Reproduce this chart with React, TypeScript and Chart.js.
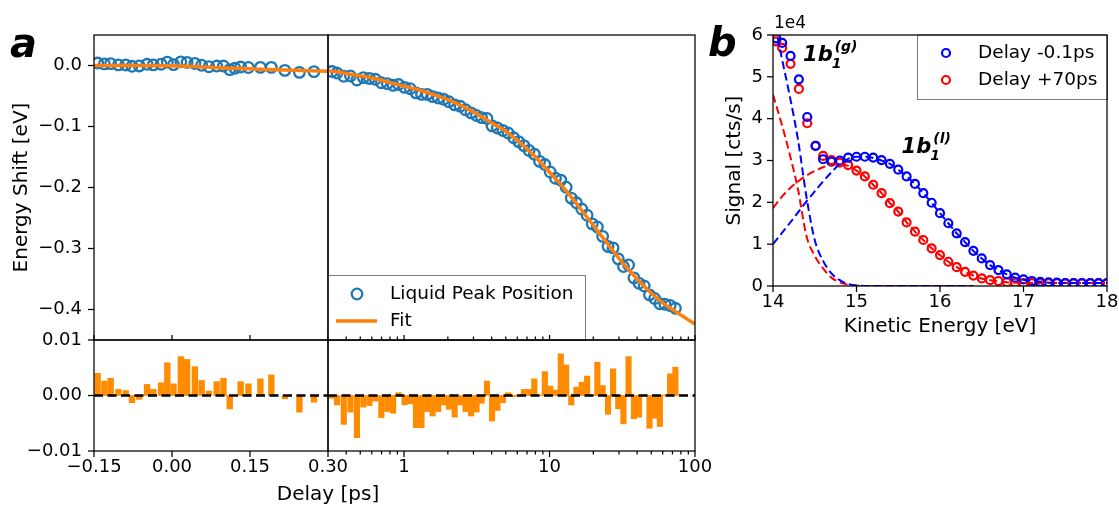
import React, { useEffect, useRef } from 'react';
import { Chart, registerables } from 'chart.js';

Chart.register(...registerables);

const W = 1119;
const H = 505;
const FAMILY = "'DejaVu Sans', 'Liberation Sans', sans-serif";
Chart.defaults.font.family = FAMILY;
Chart.defaults.color = '#000';

// ===================== Panel a =====================
// early delays (linear segment of the axis), ps
const delayEarly = [-0.143, -0.130, -0.118, -0.103, -0.089, -0.077, -0.063, -0.048, -0.036, -0.021, -0.009, 0.003, 0.017, 0.029, 0.044, 0.057, 0.071, 0.086, 0.099, 0.111, 0.121, 0.132, 0.147, 0.170, 0.191, 0.217, 0.245, 0.273];
const shiftEarly = [0.0040, 0.0026, 0.0031, 0.0011, 0.0009, -0.0013, -0.0007, 0.0020, 0.0010, 0.0021, 0.0055, 0.0015, 0.0060, 0.0051, 0.0034, 0.0004, -0.0020, -0.0009, -0.0009, -0.0067, -0.0046, -0.0025, -0.0033, -0.0031, -0.0030, -0.0080, -0.0112, -0.0101];
const residualEarly = [0.0040, 0.0026, 0.0031, 0.0011, 0.0009, -0.0013, -0.0007, 0.0020, 0.0011, 0.0023, 0.0059, 0.0021, 0.0070, 0.0065, 0.0052, 0.0027, 0.0008, 0.0025, 0.0031, -0.0024, 0.0000, 0.0025, 0.0021, 0.0030, 0.0037, -0.0006, -0.0030, -0.0012];
const fitEarlyDelay = [-0.15, -0.10, -0.05, 0.0, 0.05, 0.10, 0.15, 0.20, 0.25, 0.30];
const fitEarlyShift = [0.0, 0.0, 0.0, -0.0005, -0.002, -0.004, -0.0055, -0.007, -0.0083, -0.0095];

// late delays (logarithmic segment of the axis), ps
const delayLate = [0.320, 0.346, 0.385, 0.428, 0.474, 0.525, 0.578, 0.635, 0.698, 0.767, 0.841, 0.917, 1.008, 1.103, 1.208, 1.318, 1.442, 1.573, 1.718, 1.870, 2.033, 2.228, 2.430, 2.646, 2.886, 3.148, 3.412, 3.715, 4.025, 4.384, 4.780, 5.197, 5.667, 6.134, 6.668, 7.237, 7.859, 8.543, 9.286, 10.11, 10.99, 11.95, 13.01, 14.11, 15.31, 16.65, 18.13, 19.65, 21.32, 23.18, 25.24, 27.35, 29.69, 32.23, 34.93, 38.03, 41.22, 44.75, 48.64, 52.80, 57.32, 62.12, 67.45, 73.31];
const shiftLate = [-0.0099, -0.0124, -0.0176, -0.0172, -0.0237, -0.0199, -0.0212, -0.0226, -0.0282, -0.0297, -0.0325, -0.0312, -0.0359, -0.0381, -0.0448, -0.0473, -0.0474, -0.0511, -0.0533, -0.0554, -0.0595, -0.0646, -0.0669, -0.0725, -0.0777, -0.0820, -0.0854, -0.0868, -0.0990, -0.1024, -0.1065, -0.1107, -0.1185, -0.1248, -0.1314, -0.1393, -0.1453, -0.1572, -0.1624, -0.1746, -0.1848, -0.1879, -0.1995, -0.2175, -0.2251, -0.2353, -0.2455, -0.2597, -0.2647, -0.2801, -0.2966, -0.2990, -0.3171, -0.3296, -0.3270, -0.3482, -0.3570, -0.3614, -0.3761, -0.3819, -0.3906, -0.3914, -0.3934, -0.3980];
const residualLate = [-0.0005, -0.0017, -0.0052, -0.0030, -0.0076, -0.0021, -0.0018, -0.0010, -0.0040, -0.0029, -0.0032, 0.0005, -0.0017, -0.0015, -0.0058, -0.0058, -0.0029, -0.0037, -0.0029, -0.0017, -0.0025, -0.0039, -0.0017, -0.0029, -0.0037, -0.0030, -0.0014, 0.0026, -0.0046, -0.0027, -0.0013, 0.0005, -0.0002, 0.0001, 0.0011, 0.0011, 0.0030, 0.0001, 0.0043, 0.0017, 0.0010, 0.0075, 0.0055, -0.0017, 0.0015, 0.0024, 0.0035, 0.0001, 0.0060, 0.0018, -0.0034, 0.0048, -0.0024, -0.0051, 0.0070, -0.0042, -0.0039, 0.0001, -0.0059, -0.0041, -0.0056, 0.0001, 0.0039, 0.0051];
const fitLateDelay = [0.3, 0.4, 0.5, 0.6, 0.8, 1, 1.3, 1.7, 2.2, 3, 4, 5, 6.3, 8, 10, 13, 18, 25, 30, 40, 50, 60, 70, 80, 100];
const fitLateShift = [-0.0085, -0.013, -0.017, -0.020, -0.028, -0.034, -0.041, -0.050, -0.060, -0.076, -0.094, -0.108, -0.127, -0.150, -0.175, -0.205, -0.248, -0.292, -0.316, -0.350, -0.373, -0.389, -0.400, -0.409, -0.424];

const shiftTicks = [0, -0.1, -0.2, -0.3, -0.4];
const residualTicks = [0.01, 0, -0.01];
const linearDelayTicks = [-0.15, 0, 0.15, 0.3];
const logDelayMajor = [1, 10, 100];
const logDelayMinor = [0.4, 0.5, 0.6, 0.7, 0.8, 0.9, 2, 3, 4, 5, 6, 7, 8, 9, 20, 30, 40, 50, 60, 70, 80, 90];

// ===================== Panel b =====================
// kinetic energy (eV), signal in units of 1e4 cts/s
const kineticEnergy = [14.04, 14.11, 14.21, 14.31, 14.41, 14.51, 14.6, 14.7, 14.8, 14.9, 15.0, 15.1, 15.2, 15.3, 15.4, 15.5, 15.6, 15.7, 15.8, 15.9, 16.0, 16.1, 16.2, 16.3, 16.4, 16.5, 16.6, 16.7, 16.8, 16.9, 17.0, 17.1, 17.2, 17.3, 17.4, 17.5, 17.6, 17.7, 17.8, 17.9, 18.0];
const signalEarly = [5.92, 5.81, 5.50, 4.94, 4.04, 3.35, 3.03, 2.97, 3.00, 3.07, 3.09, 3.09, 3.07, 3.01, 2.92, 2.78, 2.62, 2.44, 2.22, 1.99, 1.74, 1.50, 1.26, 1.05, 0.84, 0.66, 0.50, 0.38, 0.28, 0.20, 0.16, 0.12, 0.10, 0.09, 0.08, 0.07, 0.07, 0.07, 0.07, 0.07, 0.07];
const signalLate = [5.85, 5.69, 5.31, 4.71, 3.89, 3.35, 3.11, 3.01, 2.95, 2.89, 2.76, 2.62, 2.42, 2.22, 1.98, 1.78, 1.52, 1.30, 1.10, 0.90, 0.74, 0.58, 0.45, 0.34, 0.25, 0.18, 0.14, 0.12, 0.09, 0.08, 0.07, 0.07, 0.07, 0.07, 0.07, 0.07, 0.07, 0.07, 0.07, 0.07, 0.07];
const gasFitEnergy = [14.0, 14.1, 14.2, 14.3, 14.4, 14.5, 14.6, 14.7, 14.8, 14.9, 15.0, 15.2, 16.4];
const gasFitEarly = [6.5, 5.5, 4.55, 3.49, 2.14, 1.10, 0.6, 0.3, 0.14, 0.05, 0.015, 0.0, 0.0];
const gasFitLate = [4.57, 3.9, 3.15, 2.3, 1.2, 0.72, 0.42, 0.2, 0.09, 0.03, 0.01, 0.0, 0.0];
const liquidFitEnergy = [14.0, 14.1, 14.2, 14.3, 14.4, 14.5, 14.6, 14.7, 14.8, 14.9, 15.0, 15.1, 15.2, 15.3, 15.4, 15.5, 15.6, 15.7, 15.8, 15.9, 16.0, 16.1, 16.2, 16.3, 16.4, 16.5, 16.6, 16.7, 16.8, 16.9, 17.0, 17.5, 18.0];
const liquidFitEarly = [1.00, 1.25, 1.50, 1.76, 2.02, 2.26, 2.50, 2.72, 2.92, 3.04, 3.09, 3.09, 3.06, 3.00, 2.92, 2.78, 2.62, 2.44, 2.22, 1.99, 1.74, 1.50, 1.26, 1.05, 0.84, 0.66, 0.50, 0.38, 0.28, 0.20, 0.15, 0.07, 0.07];
const liquidFitLate = [1.86, 2.12, 2.33, 2.50, 2.64, 2.75, 2.84, 2.90, 2.92, 2.87, 2.76, 2.62, 2.42, 2.22, 1.98, 1.78, 1.52, 1.30, 1.10, 0.90, 0.74, 0.58, 0.45, 0.34, 0.25, 0.18, 0.14, 0.11, 0.09, 0.08, 0.07, 0.07, 0.07];
const energyTicks = [14, 15, 16, 17, 18];
const signalTicks = [0, 1, 2, 3, 4, 5, 6];
const legendB = ['Delay -0.1ps', 'Delay +70ps'];
const legendA = ['Liquid Peak Position', 'Fit'];

// ===================== helpers =====================
const C_BLUE = '#1f77b4';
const C_ORANGE = '#ff7f0e';
const C_BAR = '#ff8c00';
const TICK_FONT = { family: FAMILY, size: 18 };
const TITLE_SIZE = 20;
const LEGEND_FONT = `18.5px ${FAMILY}`;

const pts = (xs: number[], ys: number[]) => xs.map((x, i) => ({ x, y: ys[i] }));
const minus = (s: string) => s.replace('-', '\u2212');

type TickSpec = { axis: 'x' | 'y'; values: number[]; len: number; inward?: boolean };

function frameTicksPlugin(specs: TickSpec[]) {
  return {
    id: 'frameTicks',
    afterDraw(chart: any) {
      const { ctx, chartArea: a } = chart;
      ctx.save();
      ctx.strokeStyle = '#000';
      ctx.lineWidth = 1.25;
      ctx.strokeRect(a.left, a.top, a.right - a.left, a.bottom - a.top);
      for (const s of specs) {
        const sc = chart.scales[s.axis];
        for (const v of s.values) {
          const p = sc.getPixelForValue(v);
          ctx.beginPath();
          if (s.axis === 'x') {
            ctx.moveTo(p, a.bottom);
            ctx.lineTo(p, a.bottom + (s.inward ? -s.len : s.len));
          } else {
            ctx.moveTo(a.left, p);
            ctx.lineTo(a.left + (s.inward ? s.len : -s.len), p);
          }
          ctx.stroke();
        }
      }
      ctx.restore();
    },
  };
}

function drawPlugin(id: string, fn: (ctx: CanvasRenderingContext2D, chart: any) => void) {
  return {
    id,
    afterDatasetsDraw(chart: any) {
      const ctx = chart.ctx;
      ctx.save();
      fn(ctx, chart);
      ctx.restore();
    },
  };
}

function hiddenAxis(type: string, min: number, max: number) {
  return { type, min, max, display: false, offset: false };
}

function shownAxis(o: {
  type: string; min: number; max: number; values: number[];
  format: (v: number) => string; size: number; pad: number;
  title?: string; titlePad?: any;
}) {
  return {
    type: o.type, min: o.min, max: o.max, offset: false,
    grid: { display: false, drawTicks: false },
    border: { display: false },
    ticks: {
      font: TICK_FONT, color: '#000', padding: o.pad, autoSkip: false,
      maxRotation: 0, minRotation: 0,
      callback: (v: any) => o.format(Number(v)),
    },
    afterBuildTicks: (s: any) => { s.ticks = o.values.map((v) => ({ value: v })); },
    afterFit: (s: any) => {
      if (s.isHorizontal()) s.height = o.size; else s.width = o.size;
      s.paddingLeft = 0; s.paddingRight = 0; s.paddingTop = 0; s.paddingBottom = 0;
    },
    title: o.title
      ? { display: true, text: o.title, font: { family: FAMILY, size: TITLE_SIZE }, color: '#000', padding: o.titlePad }
      : { display: false },
  };
}

const baseOptions = (padding: any, scales: any) => ({
  responsive: false,
  maintainAspectRatio: false,
  animation: false,
  devicePixelRatio: 1,
  events: [],
  layout: { padding },
  plugins: { legend: { display: false }, tooltip: { enabled: false } },
  scales,
});

// panel frames (pixels of the figure)
const A_LEFT = 94, A_MID = 328, A_RIGHT = 695, A_TOP = 35, A_SPLIT = 340, A_BOTTOM = 451;
const B_LEFT = 773, B_RIGHT = 1107, B_TOP = 35, B_BOTTOM = 286;

function drawCircle(ctx: CanvasRenderingContext2D, x: number, y: number, r: number, color: string, lw: number) {
  ctx.beginPath();
  ctx.arc(x, y, r, 0, Math.PI * 2);
  ctx.strokeStyle = color;
  ctx.lineWidth = lw;
  ctx.stroke();
}

function drawOrbital(ctx: CanvasRenderingContext2D, x: number, y: number, sup: string) {
  ctx.fillStyle = '#000';
  ctx.textAlign = 'left';
  ctx.textBaseline = 'alphabetic';
  ctx.font = `italic bold 21px ${FAMILY}`;
  ctx.fillText('1b', x, y);
  const w = ctx.measureText('1b').width;
  ctx.font = `italic bold 14px ${FAMILY}`;
  ctx.fillText('1', x + w - 1, y + 7);
  ctx.fillText(sup, x + w + 2, y - 10);
}

// ===================== chart configs =====================
function configTopLeft() {
  return {
    type: 'line',
    data: {
      datasets: [
        { data: pts(fitEarlyDelay, fitEarlyShift), borderColor: C_ORANGE, borderWidth: 3.5, pointRadius: 0, cubicInterpolationMode: 'monotone', clip: 0 },
        { data: pts(delayEarly, shiftEarly), showLine: false, pointStyle: 'circle', pointRadius: 5.3, pointBorderWidth: 2.3, pointBorderColor: C_BLUE, pointBackgroundColor: 'rgba(0,0,0,0)', clip: 0 },
      ],
    },
    options: baseOptions(
      { left: 0, top: A_TOP, right: W - A_MID, bottom: H - A_SPLIT },
      {
        x: hiddenAxis('linear', -0.15, 0.30),
        y: shownAxis({ type: 'linear', min: -0.45, max: 0.05, values: shiftTicks, format: (v) => minus(v.toFixed(1)), size: A_LEFT, pad: 12, title: 'Energy Shift [eV]', titlePad: { top: 10, bottom: 0 } }),
      }
    ),
    plugins: [
      frameTicksPlugin([
        { axis: 'y', values: shiftTicks, len: 6 },
        { axis: 'x', values: linearDelayTicks, len: 5, inward: true },
      ]),
      drawPlugin('panelA', (ctx) => {
        ctx.fillStyle = '#000';
        ctx.font = `italic bold 40px ${FAMILY}`;
        ctx.textBaseline = 'alphabetic';
        ctx.fillText('a', 10, 57);
      }),
    ],
  };
}

function configTopRight() {
  return {
    type: 'line',
    data: {
      datasets: [
        { data: pts(fitLateDelay, fitLateShift), borderColor: C_ORANGE, borderWidth: 3.5, pointRadius: 0, cubicInterpolationMode: 'monotone', clip: 0 },
        { data: pts(delayLate, shiftLate), showLine: false, pointStyle: 'circle', pointRadius: 5.3, pointBorderWidth: 2.3, pointBorderColor: C_BLUE, pointBackgroundColor: 'rgba(0,0,0,0)', clip: 0 },
      ],
    },
    options: baseOptions(
      { left: A_MID, top: A_TOP, right: W - A_RIGHT, bottom: H - A_SPLIT },
      {
        x: hiddenAxis('logarithmic', 0.3, 100),
        y: hiddenAxis('linear', -0.45, 0.05),
      }
    ),
    plugins: [
      drawPlugin('legendA', (ctx, chart) => {
        const a = chart.chartArea;
        const bw = 258, bh = 65;
        const x0 = a.left, y0 = a.bottom - bh;
        ctx.fillStyle = '#fff';
        ctx.fillRect(x0, y0, bw, bh);
        ctx.strokeStyle = '#7a7a7a';
        ctx.lineWidth = 1;
        ctx.strokeRect(x0 + 0.5, y0 + 0.5, bw - 1, bh);
        drawCircle(ctx, x0 + 29, y0 + 19, 5.3, C_BLUE, 2.3);
        ctx.beginPath();
        ctx.moveTo(x0 + 8, y0 + 46);
        ctx.lineTo(x0 + 49, y0 + 46);
        ctx.strokeStyle = C_ORANGE;
        ctx.lineWidth = 3.5;
        ctx.stroke();
        ctx.fillStyle = '#000';
        ctx.font = LEGEND_FONT;
        ctx.textBaseline = 'middle';
        ctx.textAlign = 'left';
        ctx.fillText(legendA[0], x0 + 62, y0 + 19);
        ctx.fillText(legendA[1], x0 + 62, y0 + 46);
      }),
      frameTicksPlugin([
        { axis: 'x', values: logDelayMinor, len: 3.5, inward: true },
        { axis: 'x', values: logDelayMajor, len: 5, inward: true },
      ]),
    ],
  };
}

const zeroLineStyle = { type: 'line', borderColor: '#000', borderWidth: 2.6, borderDash: [9, 4.5], pointRadius: 0, clip: 0 };

function configBottomLeft() {
  return {
    type: 'bar',
    data: {
      datasets: [
        { ...zeroLineStyle, data: [{ x: -0.15, y: 0 }, { x: 0.30, y: 0 }] },
        { type: 'bar', data: pts(delayEarly, residualEarly), backgroundColor: C_BAR, borderWidth: 0, barThickness: 5.7 },
      ],
    },
    options: baseOptions(
      { left: 0, top: A_SPLIT, right: W - A_MID, bottom: 0 },
      {
        x: shownAxis({ type: 'linear', min: -0.15, max: 0.30, values: linearDelayTicks, format: (v) => minus(v.toFixed(2)), size: H - A_BOTTOM, pad: 6 }),
        y: shownAxis({ type: 'linear', min: -0.01, max: 0.01, values: residualTicks, format: (v) => minus(v.toFixed(2)), size: A_LEFT, pad: 12 }),
      }
    ),
    plugins: [
      frameTicksPlugin([
        { axis: 'y', values: residualTicks, len: 6 },
        { axis: 'x', values: linearDelayTicks, len: 6 },
      ]),
    ],
  };
}

function configBottomRight() {
  return {
    type: 'bar',
    data: {
      datasets: [
        { ...zeroLineStyle, data: [{ x: 0.3, y: 0 }, { x: 100, y: 0 }] },
        { type: 'bar', data: pts(delayLate, residualLate), backgroundColor: C_BAR, borderWidth: 0, barThickness: 5.5 },
      ],
    },
    options: baseOptions(
      { left: A_MID, top: A_SPLIT, right: W - A_RIGHT, bottom: 0 },
      {
        x: shownAxis({ type: 'logarithmic', min: 0.3, max: 100, values: logDelayMajor, format: (v) => String(v), size: H - A_BOTTOM, pad: 6 }),
        y: hiddenAxis('linear', -0.01, 0.01),
      }
    ),
    plugins: [
      frameTicksPlugin([
        { axis: 'x', values: logDelayMinor, len: 3.5 },
        { axis: 'x', values: logDelayMajor, len: 6 },
      ]),
    ],
  };
}

function configPanelB() {
  const dashed = (xs: number[], ys: number[], color: string) => ({
    data: pts(xs, ys), borderColor: color, borderWidth: 2, borderDash: [8, 4], pointRadius: 0, cubicInterpolationMode: 'monotone', clip: 0,
  });
  const circles = (ys: number[], color: string) => ({
    data: pts(kineticEnergy, ys), showLine: false, pointStyle: 'circle', pointRadius: 4, pointBorderWidth: 2.2, pointBorderColor: color, pointBackgroundColor: 'rgba(0,0,0,0)', clip: 0,
  });
  return {
    type: 'line',
    data: {
      datasets: [
        dashed(gasFitEnergy, gasFitEarly, '#0000ff'),
        dashed(gasFitEnergy, gasFitLate, '#ff0000'),
        dashed(liquidFitEnergy, liquidFitEarly, '#0000ff'),
        dashed(liquidFitEnergy, liquidFitLate, '#ff0000'),
        circles(signalEarly, '#0000ff'),
        circles(signalLate, '#ff0000'),
      ],
    },
    options: baseOptions(
      { left: 700, top: B_TOP, right: W - B_RIGHT, bottom: H - B_BOTTOM - 60 },
      {
        x: shownAxis({ type: 'linear', min: 14, max: 18, values: energyTicks, format: (v) => String(v), size: 60, pad: 6, title: 'Kinetic Energy [eV]', titlePad: { top: 0, bottom: 7.5 } }),
        y: shownAxis({ type: 'linear', min: 0, max: 6, values: signalTicks, format: (v) => String(v), size: B_LEFT - 700, pad: 10, title: 'Signal [cts/s]', titlePad: { top: 23, bottom: 0 } }),
      }
    ),
    plugins: [
      drawPlugin('annotB', (ctx, chart) => {
        const a = chart.chartArea;
        const xs = chart.scales.x, ys = chart.scales.y;
        drawOrbital(ctx, xs.getPixelForValue(14.36), ys.getPixelForValue(5.39), '(g)');
        drawOrbital(ctx, xs.getPixelForValue(15.54), ys.getPixelForValue(3.17), '(l)');
        // legend
        const bw = 190, bh = 65;
        const x0 = a.right - bw, y0 = a.top;
        ctx.fillStyle = '#fff';
        ctx.fillRect(x0, y0, bw, bh);
        ctx.strokeStyle = '#7a7a7a';
        ctx.lineWidth = 1;
        ctx.strokeRect(x0 + 0.5, y0, bw, bh - 0.5);
        drawCircle(ctx, x0 + 29, y0 + 18, 4, '#0000ff', 2.2);
        drawCircle(ctx, x0 + 29, y0 + 45, 4, '#ff0000', 2.2);
        ctx.fillStyle = '#000';
        ctx.font = LEGEND_FONT;
        ctx.textBaseline = 'middle';
        ctx.textAlign = 'left';
        ctx.fillText(legendB[0], x0 + 61, y0 + 18);
        ctx.fillText(legendB[1], x0 + 61, y0 + 45);
        // offset text
        ctx.textBaseline = 'alphabetic';
        ctx.font = `17px ${FAMILY}`;
        ctx.fillText('1e4', a.left + 1, a.top - 7);
        // panel label
        ctx.font = `italic bold 40px ${FAMILY}`;
        ctx.fillText('b', 708, 56);
      }),
      frameTicksPlugin([
        { axis: 'y', values: signalTicks, len: 6 },
        { axis: 'x', values: energyTicks, len: 6 },
      ]),
    ],
  };
}

function ChartLayer({ build }: { build: () => any }) {
  const ref = useRef<HTMLCanvasElement>(null);
  useEffect(() => {
    const chart = new Chart(ref.current as HTMLCanvasElement, build() as any);
    return () => chart.destroy();
  }, [build]);
  return (
    <canvas
      ref={ref}
      width={W}
      height={H}
      style={{ position: 'absolute', left: 0, top: 0, width: W, height: H, pointerEvents: 'none' }}
    />
  );
}

export default function App() {
  return (
    <div style={{ position: 'absolute', left: 0, top: 0, width: W, height: H, background: '#fff', overflow: 'hidden' }}>
      <ChartLayer build={configTopLeft} />
      <ChartLayer build={configTopRight} />
      <ChartLayer build={configBottomLeft} />
      <ChartLayer build={configBottomRight} />
      <ChartLayer build={configPanelB} />
      <div
        style={{
          position: 'absolute', left: A_MID - 150, top: 481, width: 300, textAlign: 'center',
          fontFamily: FAMILY, fontSize: TITLE_SIZE, lineHeight: '24px', color: '#000',
        }}
      >
        Delay [ps]
      </div>
    </div>
  );
}
